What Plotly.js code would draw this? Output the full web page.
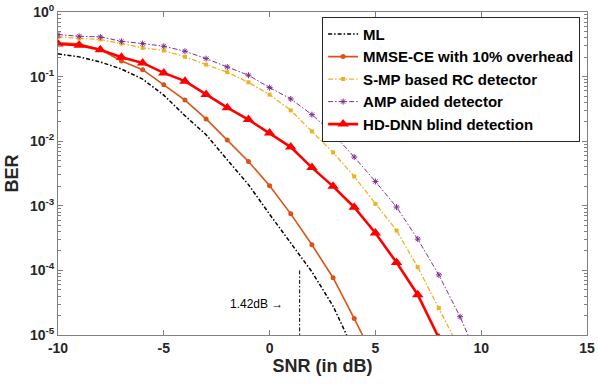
<!DOCTYPE html>
<html>
<head>
<meta charset="utf-8">
<script src="https://cdn.plot.ly/plotly-3.0.1.min.js"></script>
<style>html,body{margin:0;padding:0;background:#fff;}#chart{width:598px;height:386px;}</style>
</head>
<body>
<div id="chart"></div>
<script>
// ---- data ----
const snrML   = [-10,-9,-8,-7,-6,-5,-4,-3,-2,-1,0,1,2,3,4];
const berML   = [0.225,0.202,0.168,0.131,0.0914,0.0516,0.0248,0.0126,0.00516,0.00213,7.4e-4,2.7e-4,9.5e-5,2.8e-5,5.6e-6];

const snrMMSE = [-10,-9,-8,-7,-6,-5,-4,-3,-2,-1,0,1,2,3,4,5];
const berMMSE = [0.333,0.321,0.262,0.174,0.128,0.0751,0.0433,0.0221,0.0104,0.00486,0.00204,7.5e-4,2.49e-4,7.7e-5,1.8e-5,4e-6];

const snrSMP  = [-10,-9,-8,-7,-6,-5,-4,-3,-2,-1,0,1,2,3,4,5,6,7,8,9];
const berSMP  = [0.412,0.388,0.375,0.325,0.279,0.253,0.202,0.153,0.117,0.0816,0.0526,0.030,0.0142,0.0067,0.00284,0.00107,4.14e-4,1.12e-4,2.6e-5,5.9e-6];

const snrAMP  = [-10,-9,-8,-7,-6,-5,-4,-3,-2,-1,0,1,2,3,4,5,6,7,8,9,10];
const berAMP  = [0.448,0.421,0.412,0.352,0.325,0.295,0.247,0.190,0.141,0.105,0.0676,0.0451,0.0258,0.0131,0.00569,0.00238,9.55e-4,3.05e-4,8.5e-5,1.92e-5,3.4e-6];

const snrHD   = [-10,-9,-8,-7,-6,-5,-4,-3,-2,-1,0,1,2,3,4,5,6,7,8];
const berHD   = [0.32,0.305,0.26,0.20,0.163,0.114,0.085,0.053,0.033,0.0216,0.0134,0.0081,0.0039,0.0020,0.00095,0.00038,1.32e-4,4.2e-5,9e-6];

const gapX    = [1.42,1.42];
const gapY    = [1e-4,1e-5];
const gapText = '1.42dB \u2192';

const seriesNames = ['ML','MMSE-CE with 10% overhead','S-MP based RC detector','AMP aided detector','HD-DNN blind detection'];
const yTickVals = [1,0.1,0.01,0.001,0.0001,0.00001];
const yTickText = ['10<sup>0</sup>','10<sup>-1</sup>','10<sup>-2</sup>','10<sup>-3</sup>','10<sup>-4</sup>','10<sup>-5</sup>'];
const xTickVals = [-10,-5,0,5,10,15];
const xTickText = ['-10','-5','0','5','10','15'];

// ---- traces ----
const traces = [
  {x:snrML, y:berML, name:seriesNames[0], mode:'lines',
   line:{color:'#000000', width:1.5, dash:'4px,2px,1.5px,2px'}},
  {x:snrMMSE, y:berMMSE, name:seriesNames[1], mode:'lines+markers',
   line:{color:'#D95319', width:1.6}, marker:{symbol:'circle', size:5, color:'#D95319'}},
  {x:snrSMP, y:berSMP, name:seriesNames[2], mode:'lines+markers',
   line:{color:'#EDB120', width:1.3, dash:'5px,2px,1.5px,2px'}, marker:{symbol:'square', size:4, color:'#EDB120'}},
  {x:snrAMP, y:berAMP, name:seriesNames[3], mode:'lines+markers',
   line:{color:'#7E2F8E', width:1, dash:'5px,2px,1.5px,2px'},
   marker:{symbol:'asterisk-open', size:5, color:'#7E2F8E', line:{color:'#7E2F8E', width:1}}},
  {x:snrHD, y:berHD, name:seriesNames[4], mode:'lines+markers',
   line:{color:'#FF0000', width:2.6}, marker:{symbol:'triangle-up', size:10, color:'#FF0000'}},
  {x:gapX, y:gapY, mode:'lines', showlegend:false, hoverinfo:'skip',
   line:{color:'#000000', width:1, dash:'4px,2px,1.5px,2px'}}
];

const axisFont = {family:'Liberation Sans, Arial, sans-serif', size:14, color:'#262626', weight:'bold'};

const layout = {
  width:598, height:386,
  margin:{l:58, r:11, t:12, b:51, pad:0},
  paper_bgcolor:'#ffffff', plot_bgcolor:'#ffffff',
  showlegend:true,
  xaxis:{
    type:'linear', range:[-10,15], tickmode:'array', tickvals:xTickVals, ticktext:xTickText,
    ticks:'inside', ticklen:5, tickcolor:'#808080', tickwidth:1,
    showline:true, linecolor:'#808080', linewidth:1, mirror:'ticks',
    showgrid:false, zeroline:false,
    tickfont:axisFont,
    title:{text:'SNR (in dB)', font:{family:'Liberation Sans, Arial, sans-serif', size:18, color:'#262626', weight:'bold'}, standoff:4}
  },
  yaxis:{
    type:'log', range:[-5,0], tickmode:'array', tickvals:yTickVals, ticktext:yTickText,
    ticks:'inside', ticklen:5, tickcolor:'#808080', tickwidth:1,
    showline:true, linecolor:'#808080', linewidth:1, mirror:'ticks',
    showgrid:false, zeroline:false,
    minor:{ticks:'inside', ticklen:3, tickcolor:'#808080', dtick:'D1', showgrid:false},
    tickfont:axisFont,
    title:{text:'BER', font:{family:'Liberation Sans, Arial, sans-serif', size:18, color:'#262626', weight:'bold'}, standoff:6}
  },
  legend:{
    x:0.987, y:0.985, xanchor:'right', yanchor:'top',
    bgcolor:'#ffffff', bordercolor:'#262626', borderwidth:1,
    font:{family:'Liberation Sans, Arial, sans-serif', size:15, color:'#000000', weight:'bold'},
    itemwidth:30, tracegroupgap:0
  },
  annotations:[
    {x:-0.6, y:Math.log10(3e-5), xref:'x', yref:'y', text:gapText, showarrow:false,
     font:{family:'Liberation Sans, Arial, sans-serif', size:12, color:'#000000'}}
  ]
};

Plotly.newPlot('chart', traces, layout, {displayModeBar:false, staticPlot:true});
</script>
</body>
</html>
